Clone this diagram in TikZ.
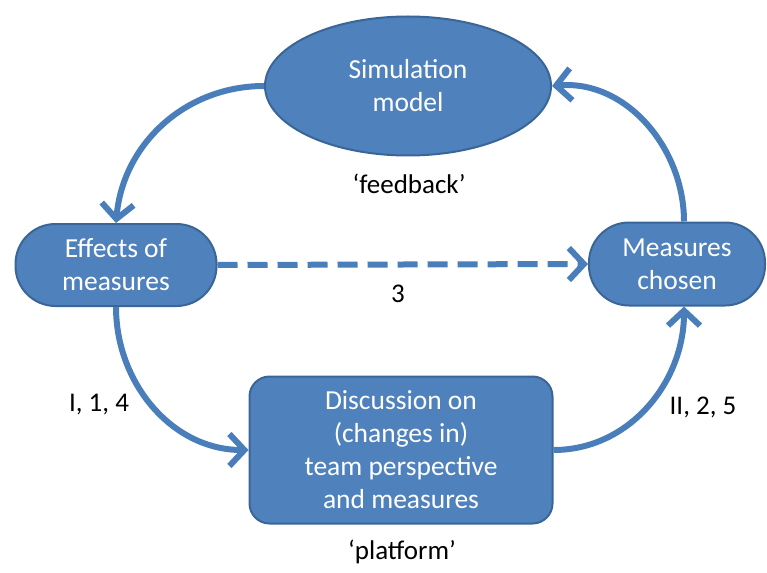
\documentclass[tikz,border=0pt]{standalone}
\usepackage{fontspec}
\setmainfont{Carlito}
\usetikzlibrary{arrows.meta,shapes.geometric}
\definecolor{boxfill}{HTML}{4F81BD}
\definecolor{boxline}{HTML}{3A6597}
\definecolor{arrowcol}{HTML}{4A7EBB}
\tikzset{
  box/.style={draw=boxline, line width=2pt, fill=boxfill, text=white, align=center,
    font=\fontsize{27.5}{33}\selectfont, inner sep=0pt},
  lbl/.style={font=\fontsize{27}{32}\selectfont, text=black},
  conn/.style={draw=arrowcol, line width=6pt, -{Straight Barb[length=15pt,width=32pt,line width=6pt]}},
}
\begin{document}
\begin{tikzpicture}[x=1pt,y=-1pt]
\useasboundingbox (0,0) rectangle (767,572);
\node[box, ellipse, minimum width=286pt, minimum height=139pt] (sim) at (408,86) {Simulation\\model};
\node[box, rectangle, rounded corners=40pt, minimum width=201pt, minimum height=82pt] (eff) at (116,265) {Effects of\\measures};
\node[box, rectangle, rounded corners=40pt, minimum width=176pt, minimum height=83pt] (mc) at (677,264) {Measures\\chosen};
\node[box, rectangle, rounded corners=20pt, minimum width=303pt, minimum height=147pt] (dis) at (401,450) {Discussion on\\(changes in)\\team perspective\\and measures};
\node[lbl] (fb) at (409,184) {‘feedback’};
\node[lbl] (three) at (398,294) {3};
\node[lbl] (l1) at (99,405) {I, 1, 4};
\node[lbl] (l2) at (703,407) {II, 2, 5};
\node[lbl] (pf) at (402,552) {‘platform’};
\coordinate (mcn) at ([xshift=7pt]mc.north);
\coordinate (mcs) at ([xshift=7pt]mc.south);
\draw[conn] (sim.west) to[out=180,in=85] (eff.north);
\draw[conn] (mcn) to[out=90,in=5] (sim.east);
\draw[conn] (eff.south) to[out=-90,in=180] (dis.west);
\draw[conn] (dis.east) to[out=0,in=-90] (mcs);
\draw[conn, dash pattern=on 20pt off 10pt] (eff.east) -- (mc.west);
\end{tikzpicture}
\end{document}
